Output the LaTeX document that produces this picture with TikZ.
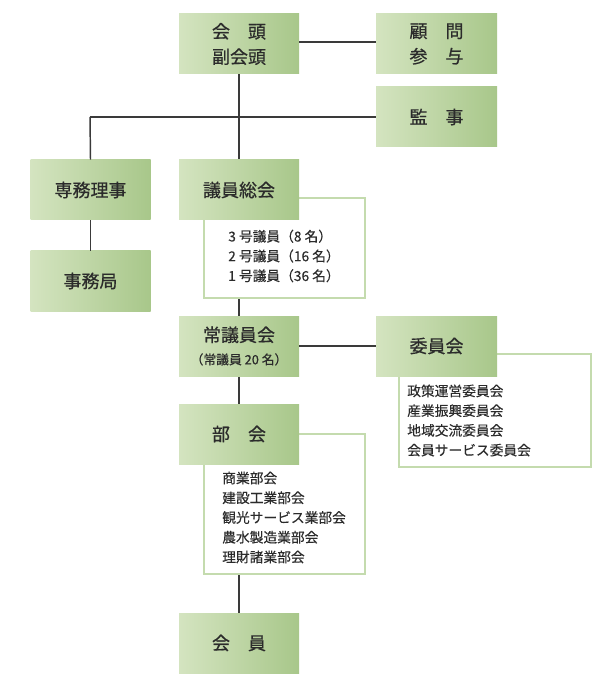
\documentclass[tikz,border=0pt]{standalone}
\usepackage{fontspec}
\setmainfont{Noto Sans CJK JP}
\newfontfamily\boxfont[FakeBold=0.6]{Noto Sans CJK JP}
\newfontfamily\listfont[FakeBold=0.3]{Noto Sans CJK JP}
\begin{document}
\begin{tikzpicture}[x=0.75pt,y=-0.75pt,
  gbox/.style={rectangle, inner sep=0pt, minimum width=90pt, minimum height=45pt,
    left color=gl, right color=gr, draw=none, text=tx, align=center,
    font=\boxfont\fontsize{13.5}{19}\selectfont},
  lbox/.style={draw=lb, line width=0.9pt, fill=white, inner sep=0pt},
  ltext/.style={anchor=west, align=left, inner sep=0pt, text=tx,
    font=\listfont\fontsize{10.3}{14.8}\selectfont},
  conn/.style={draw=ln, line width=1.1pt}]
\definecolor{gl}{HTML}{D4E4C0}
\definecolor{gr}{HTML}{A8C78A}
\definecolor{tx}{HTML}{2B2B2B}
\definecolor{lb}{HTML}{C4DBAE}
\definecolor{ln}{HTML}{3A3A3A}
\useasboundingbox (0,0) rectangle (600,680);
\fill[white] (0,0) rectangle (600,680);
\coordinate (tee) at (90,117);
% boxes that lines attach to
\node[gbox] (kaito) at (239,44) {会　頭\\副会頭};
\node[gbox, minimum width=90.75pt] (komon) at (436.5,44) {顧　問\\参　与};
\node[gbox, minimum width=90.75pt] (kanji) at (436.5,117) {監　事};
\node[gbox] (senmu) at (90.5,190) {専務理事};
\node[gbox] (jimu) at (90.5,281) {事務局};
\node[gbox] (kaiin) at (239,643) {会　員};
% connectors
\draw[conn] (kaito.south) -- (kaiin.north);
\draw[conn] ([yshift=1.5pt]kaito.east) -- ([yshift=1.5pt]komon.west);
\draw[conn] (tee) -- (kanji.west);
\draw[conn] (tee) -- (senmu.north);
\draw[conn] (senmu.south) -- (jimu.north);
% list boxes
\node[lbox, minimum width=120.75pt, minimum height=75pt] (list1) at (284.5,248) {};
\node[lbox, minimum width=144pt, minimum height=84.75pt] (list2) at (495,410.5) {};
\node[lbox, minimum width=120.75pt, minimum height=105pt] (list3) at (284.5,504) {};
% green boxes drawn over the trunk
\node[gbox] (giin) at (239,190) {議員総会};
\node[gbox] (jogiin) at (239,346) {常議員会\\[-2pt]{\fontsize{9.6}{12}\selectfont（常議員 20 名）}};
\node[gbox, minimum width=90.75pt] (iinkai) at (436.5,346) {委員会};
\node[gbox] (bukai) at (239,434) {部　会};
\draw[conn] (jogiin.east) -- (iinkai.west);
% list texts
\node[ltext] (t1) at (228,256) {3 号議員（8 名）\\2 号議員（16 名）\\1 号議員（36 名）};
\node[ltext] (t2) at (407,420.5) {政策運営委員会\\産業振興委員会\\地域交流委員会\\会員サービス委員会};
\node[ltext] (t3) at (222,517.5) {商業部会\\建設工業部会\\観光サービス業部会\\農水製造業部会\\理財諸業部会};
\end{tikzpicture}
\end{document}
